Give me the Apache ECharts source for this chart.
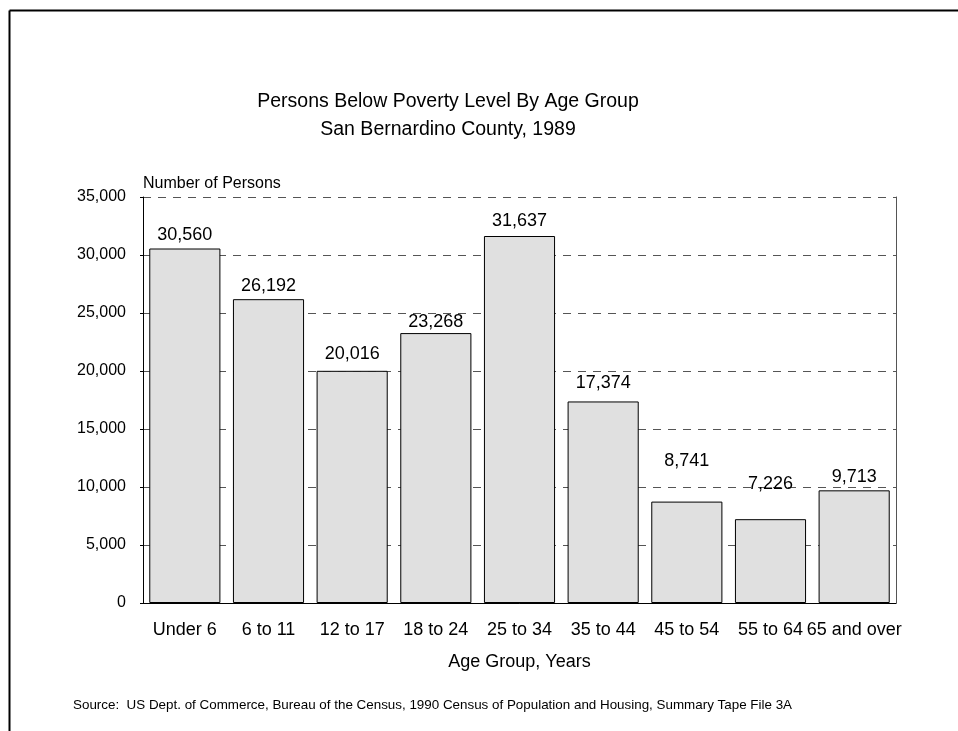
<!DOCTYPE html>
<html>
<head>
<meta charset="utf-8">
<script src="https://cdn.jsdelivr.net/npm/echarts@6/dist/echarts.min.js"></script>
<style>
  html, body { margin: 0; padding: 0; background: #fff; }
  #chart { width: 958px; height: 731px; }
</style>
</head>
<body>
<div id="chart"></div>
<script>
// Persons below poverty level, San Bernardino County, 1989
const ageGroups = ['Under 6', '6 to 11', '12 to 17', '18 to 24', '25 to 34', '35 to 44', '45 to 54', '55 to 64', '65 and over'];
const persons = [30560, 26192, 20016, 23268, 31637, 17374, 8741, 7226, 9713];
const yTicks = { min: 0, max: 35000, interval: 5000 };

// gap between each bar top and its value label (px), kept apart from the data
const labelGaps = [4, 4, 8, 2, 6, 9, 32, 26, 4];

const FONT = '"Liberation Sans", Arial, Helvetica, sans-serif';
const fmt = v => v.toLocaleString('en-US');

const chart = echarts.init(document.getElementById('chart'), null, { renderer: 'canvas' });

chart.setOption({
  backgroundColor: '#fff',
  animation: false,
  textStyle: { fontFamily: FONT },
  title: {
    text: 'Persons Below Poverty Level By Age Group\nSan Bernardino County, 1989',
    left: 443,
    textAlign: 'center',
    top: 83,
    textStyle: { fontFamily: FONT, fontSize: 19.5, fontWeight: 'normal', color: '#000', lineHeight: 28 }
  },
  grid: { left: 143, top: 197, right: 62, bottom: 128, containLabel: false },
  xAxis: {
    type: 'category',
    data: ageGroups,
    name: 'Age Group, Years',
    nameLocation: 'middle',
    nameGap: 50,
    nameTextStyle: { fontFamily: FONT, fontSize: 18, color: '#000' },
    axisLine: { show: true, lineStyle: { color: '#000', width: 1 } },
    axisTick: { show: false },
    axisLabel: { interval: 0, fontFamily: FONT, fontSize: 18, color: '#000', margin: 18 },
    splitLine: { show: false }
  },
  yAxis: [{
    type: 'value',
    min: yTicks.min,
    max: yTicks.max,
    interval: yTicks.interval,
    name: 'Number of Persons',
    nameLocation: 'end',
    nameGap: 5,
    nameTextStyle: { fontFamily: FONT, fontSize: 16, color: '#000', align: 'left' },
    axisLine: { show: true, lineStyle: { color: '#000', width: 1 } },
    axisTick: { show: true, length: 3, inside: false, lineStyle: { color: '#000' } },
    axisLabel: { fontFamily: FONT, fontSize: 16, color: '#000', margin: 17, formatter: fmt },
    splitLine: { show: true, lineStyle: { color: '#555', type: [8, 7], width: 1 } }
  }, {
    type: 'value',
    position: 'right',
    min: yTicks.min,
    max: yTicks.max,
    interval: yTicks.interval,
    axisLine: { show: true, lineStyle: { color: '#555', width: 1 } },
    axisTick: { show: false },
    axisLabel: { show: false },
    splitLine: { show: false }
  }],
  series: [{
    type: 'bar',
    yAxisIndex: 0,
    data: persons.map((v, i) => ({ value: v, label: { distance: labelGaps[i] } })),
    barCategoryGap: '15%',
    itemStyle: { color: '#e0e0e0', borderColor: '#000', borderWidth: 1 },
    label: {
      show: true,
      position: 'top',
      fontFamily: FONT,
      fontSize: 18,
      color: '#000',
      formatter: p => fmt(p.value)
    }
  }],
  graphic: [
    // page frame: top and left rules
    { type: 'line', shape: { x1: 9.5, y1: 10.5, x2: 958, y2: 10.5 }, style: { stroke: '#000', lineWidth: 2 } },
    { type: 'line', shape: { x1: 9.5, y1: 10.5, x2: 9.5, y2: 731 }, style: { stroke: '#000', lineWidth: 2 } },
    {
      type: 'text',
      left: 73,
      top: 699,
      style: {
        text: 'Source:  US Dept. of Commerce, Bureau of the Census, 1990 Census of Population and Housing, Summary Tape File 3A',
        font: '13.4px ' + FONT,
        fill: '#000'
      }
    }
  ]
});
</script>
</body>
</html>
